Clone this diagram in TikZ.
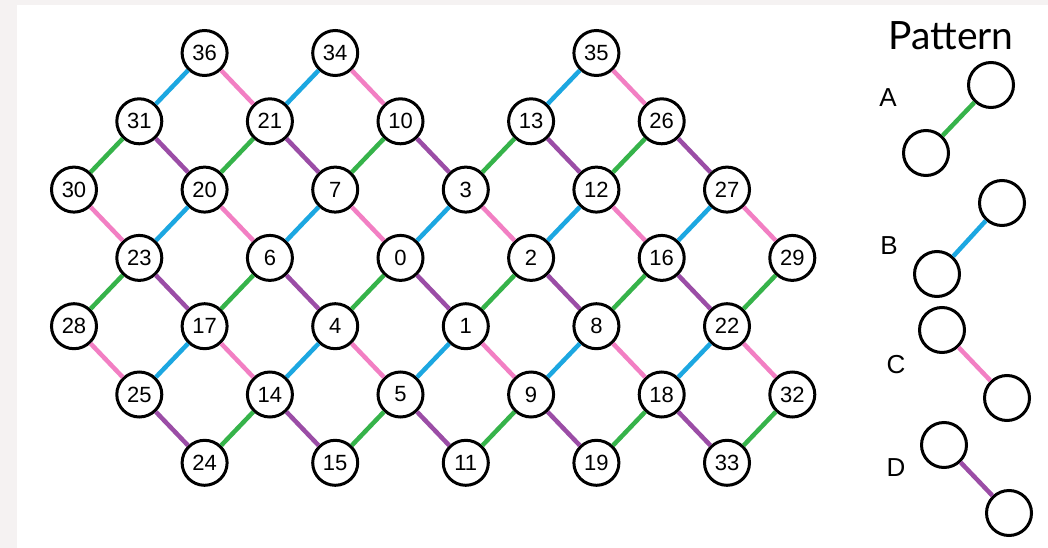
\documentclass[tikz,border=0pt]{standalone}
\usepackage{fontspec}
\setmainfont{Liberation Sans}
\newfontfamily\patfont{Lato}
\usepackage{tikz}
\usetikzlibrary{positioning}
\definecolor{bgcol}{HTML}{F5F2F2}
\definecolor{bluecol}{HTML}{1CA7E1}
\definecolor{pinkcol}{HTML}{F27FC3}
\definecolor{greencol}{HTML}{36B34A}
\definecolor{purplecol}{HTML}{9B4DA6}

\begin{document}
\begin{tikzpicture}[x=1pt, y=-1pt,
  vtx/.style={circle, draw=black, line width=3pt, fill=white, minimum size=45pt, inner sep=0pt, font=\fontsize{22}{26}\selectfont},
  letter/.style={font=\fontsize{26}{30}\selectfont},
  edge/.style={line width=4.5pt}]
  \fill[bgcol] (0,0) rectangle (1048,548);
  \fill[white] (17,5) rectangle (1048,548);
  \useasboundingbox (0,0) rectangle (1048,548);
  % lattice nodes: label/column/row
  \foreach \lbl/\c/\r in {36/2/0, 34/4/0, 35/8/0,
      31/1/1, 21/3/1, 10/5/1, 13/7/1, 26/9/1,
      30/0/2, 20/2/2, 7/4/2, 3/6/2, 12/8/2, 27/10/2,
      23/1/3, 6/3/3, 0/5/3, 2/7/3, 16/9/3, 29/11/3,
      28/0/4, 17/2/4, 4/4/4, 1/6/4, 8/8/4, 22/10/4,
      25/1/5, 14/3/5, 5/5/5, 9/7/5, 18/9/5, 32/11/5,
      24/2/6, 15/4/6, 11/6/6, 19/8/6, 33/10/6}
    {\node[vtx] (n\lbl) at ({74+65.3*\c},{53+68.3*\r}) {\lbl};}
  % edges
  \foreach \a/\b in {31/36, 21/34, 13/35, 23/20, 6/7, 0/3, 2/12, 16/27,
      25/17, 14/4, 5/1, 9/8, 18/22}
    {\draw[edge, bluecol] (n\a) -- (n\b);}
  \foreach \a/\b in {36/21, 34/10, 35/26, 30/23, 20/6, 7/0, 3/2, 12/16, 27/29,
      28/25, 17/14, 4/5, 1/9, 8/18, 22/32}
    {\draw[edge, pinkcol] (n\a) -- (n\b);}
  \foreach \a/\b in {30/31, 20/21, 7/10, 3/13, 12/26, 28/23, 17/6, 4/0, 1/2,
      8/16, 22/29, 24/14, 15/5, 11/9, 19/18, 33/32}
    {\draw[edge, greencol] (n\a) -- (n\b);}
  \foreach \a/\b in {31/20, 21/7, 10/3, 13/12, 26/27, 23/17, 6/4, 0/1, 2/8,
      16/22, 25/24, 14/15, 5/11, 9/19, 18/33}
    {\draw[edge, purplecol] (n\a) -- (n\b);}
  % legend
  \node[font=\patfont\fontsize{39}{44}\selectfont] (pattern) at (951,36) {Pattern};
  \node[letter] (la) at (888,98) {A};
  \node[vtx] (a1) at (926,153) {};
  \node[vtx] (a2) at (991,85) {};
  \node[letter] (lb) at (889,246) {B};
  \node[vtx] (b1) at (937,274) {};
  \node[vtx] (b2) at (1002,203) {};
  \node[letter] (lc) at (896,365) {C};
  \node[vtx] (c1) at (942,330) {};
  \node[vtx] (c2) at (1007,398) {};
  \node[letter] (ld) at (896,468) {D};
  \node[vtx] (d1) at (944,445) {};
  \node[vtx] (d2) at (1009,513) {};
  \draw[edge, greencol] (a1) -- (a2);
  \draw[edge, bluecol] (b1) -- (b2);
  \draw[edge, pinkcol] (c1) -- (c2);
  \draw[edge, purplecol] (d1) -- (d2);
\end{tikzpicture}
\end{document}
